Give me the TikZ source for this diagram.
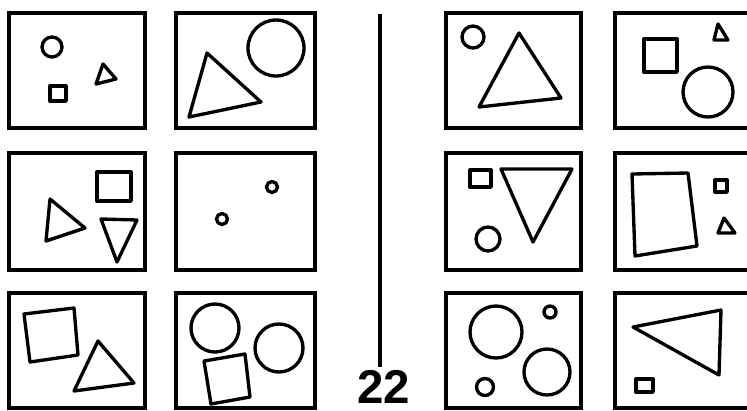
\documentclass[tikz,border=0pt]{standalone}
\usepackage{fontspec}
\newfontfamily\digitfont{Liberation Sans}
\begin{document}
\begin{tikzpicture}[x=0.02cm,y=-0.02cm,
    panel/.style={line width=1.8pt},
    form/.style={line width=1.9pt, line join=round}]
    \useasboundingbox (0,0) rectangle (747,410);
    \clip (0,0) rectangle (747,410);

    \foreach \xa/\xb in {9/145, 176/315, 446/581, 615/760}
      \foreach \ya/\yb in {13/128, 153/270, 293/408}
        \draw[panel] (\xa,\ya) rectangle (\xb,\yb);

    \draw[line width=2.8pt] (380,14) -- (380,367);
    \node[font={\digitfont\bfseries\fontsize{27}{29}\selectfont}, anchor=base, inner sep=0pt] (num) at (384,403) {22};

    \draw[form] (52,47) circle (10);
    \draw[form] (50,86) rectangle (66,101);
    \draw[form] (103,64) -- (96,84) -- (116,79) -- cycle;

    \draw[form] (276,48) circle (28);
    \draw[form] (207,53) -- (189,117) -- (261,102) -- cycle;

    \draw[form] (97,172) rectangle (131,201);
    \draw[form] (50,199) -- (46,241) -- (85,228) -- cycle;
    \draw[form] (101,219) -- (137,220) -- (117,262) -- cycle;

    \draw[form] (272,187) circle (5.5);
    \draw[form] (222,219) circle (5.5);

    \draw[form] (24,314) -- (74,308) -- (78,355) -- (30,362) -- cycle;
    \draw[form] (98,341) -- (74,391) -- (134,383) -- cycle;

    \draw[form] (215,328) circle (24);
    \draw[form] (279,348) circle (24);
    \draw[form] (204,361) -- (245,354) -- (250,397) -- (211,404) -- cycle;

    \draw[form] (473,37) circle (11);
    \draw[form] (519,33) -- (479,107) -- (561,98) -- cycle;

    \draw[form] (644,39) rectangle (677,72);
    \draw[form] (718,24) -- (714,40) -- (728,40) -- cycle;
    \draw[form] (708,92) circle (25);

    \draw[form] (470,170) rectangle (491,187);
    \draw[form] (501,169) -- (572,169) -- (533,242) -- cycle;
    \draw[form] (488,239) circle (12);

    \draw[form] (632,174) -- (688,173) -- (697,246) -- (635,256) -- cycle;
    \draw[form] (715,180) rectangle (727,192);
    \draw[form] (724,218) -- (718,233) -- (735,233) -- cycle;

    \draw[form] (496,332) circle (26);
    \draw[form] (550,312) circle (6);
    \draw[form] (547,372) circle (23);
    \draw[form] (485,387) circle (8.5);

    \draw[form] (633,327) -- (721,310) -- (719,375) -- cycle;
    \draw[form] (636,379) rectangle (653,392);
\end{tikzpicture}
\end{document}
